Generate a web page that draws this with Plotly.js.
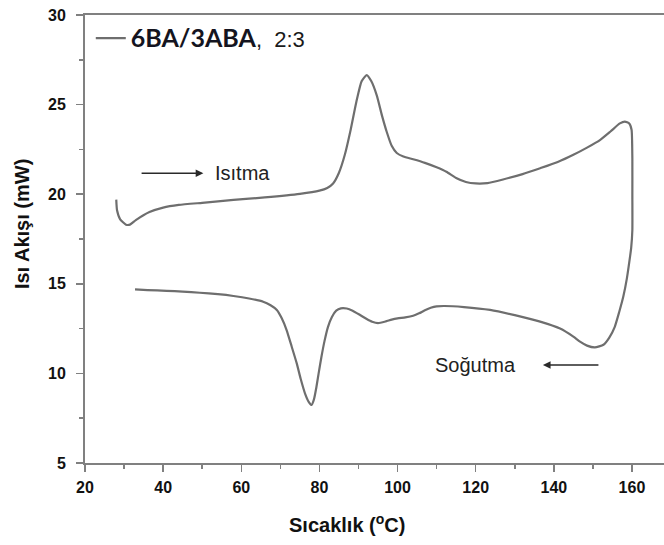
<!DOCTYPE html>
<html>
<head>
<meta charset="utf-8">
<script src="https://cdn.plot.ly/plotly-3.0.1.min.js"></script>
<style>
  html, body { margin: 0; padding: 0; background: #fff; }
  #chart { width: 664px; height: 545px; }
</style>
</head>
<body>
<div id="chart"></div>
<script>
// DSC trace of 6BA/3ABA (2:3): heating run, then cooling run back down
const heatT = [28.0, 28.2, 29.0, 30.5, 31.5, 33.0, 36.5, 40.0, 44.0, 50.0, 58.0, 66.0, 75.0, 80.0, 82.0, 83.5,
  85.0, 86.5, 88.0, 89.5, 90.8, 92.1, 93.3, 94.7, 96.0, 97.2, 98.5, 99.8, 101.5, 104.0, 107.0, 110.0,
  112.5, 115.0, 117.5, 120.0, 123.0, 127.0, 132.0, 136.5, 141.0, 145.0, 148.5, 151.8, 154.5, 156.9, 158.2,
  159.3, 159.9, 160.1, 160.1, 160.1];
const heatQ = [19.7, 19.1, 18.6, 18.3, 18.3, 18.55, 19.0, 19.25, 19.4, 19.52, 19.68, 19.82, 20.02, 20.2, 20.35, 20.6,
  21.2, 22.2, 23.6, 25.2, 26.3, 26.65, 26.3, 25.5, 24.4, 23.5, 22.7, 22.3, 22.1, 21.95, 21.75, 21.5,
  21.25, 20.9, 20.68, 20.6, 20.62, 20.82, 21.12, 21.45, 21.8, 22.2, 22.6, 23.02, 23.5, 23.95, 24.05,
  23.95, 23.6, 22.0, 20.0, 18.0];

const coolT = [159.8, 159.5, 158.7, 157.8, 156.7, 155.6, 154.2, 152.7, 150.5, 148.5, 146.7, 145.0, 141.6,
  136.5, 130.0, 123.7, 117.0, 112.0, 110.0, 108.5, 107.0, 105.5, 104.0, 102.0, 100.0, 98.5, 97.0, 95.0, 93.5, 92.0,
  90.4, 88.5, 87.0, 85.5, 84.3, 83.2, 82.2, 81.3, 80.5, 79.8, 79.2, 78.6, 78.0, 77.3, 76.3, 75.2, 74.2,
  72.9, 71.6, 70.3, 69.1, 67.5, 65.6, 62.0, 58.0, 54.0, 49.4, 45.0, 40.9, 36.0, 32.8];
const coolQ = [17.0, 16.5, 15.3, 14.3, 13.4, 12.6, 12.0, 11.6, 11.45, 11.55, 11.77, 12.05, 12.5,
  12.89, 13.25, 13.54, 13.7, 13.76, 13.74, 13.66, 13.52, 13.35, 13.22, 13.13, 13.07, 13.0, 12.9, 12.8, 12.88, 13.05,
  13.26, 13.5, 13.62, 13.63, 13.5, 13.15, 12.6, 11.8, 10.9, 10.0, 9.2, 8.55, 8.24, 8.4, 8.89, 9.7, 10.56,
  11.5, 12.42, 13.1, 13.54, 13.8, 14.0, 14.18, 14.32, 14.42, 14.5, 14.56, 14.61, 14.65, 14.69];

// direction labels with their arrows (tail -> head)
const heatLabel = { text: "Isıtma", x: 52.8, y: 21.17, arrowFrom: 34.1, arrowTo: 50.3 };
const coolLabel = { text: "Soğutma", x: 109.1, y: 10.47, arrowFrom: 151.8, arrowTo: 137.2 };

const seriesName =
  "<span style=\"font-family:Lato;font-weight:bold;font-size:25px;color:#141420\">6BA/3ABA</span>,  2:3";

const xTicks = [20, 40, 60, 80, 100, 120, 140, 160];
const yTicks = [5, 10, 15, 20, 25, 30];

const axisColor = "#808080";
const tickFont = { family: "Liberation Sans, Arial, sans-serif", size: 16, color: "#111", weight: "bold" };
const titleFont = { family: "Liberation Sans, Arial, sans-serif", size: 20, color: "#111", weight: "bold" };

const trace = {
  x: heatT.concat(coolT),
  y: heatQ.concat(coolQ),
  type: "scatter",
  mode: "lines",
  name: seriesName,
  line: { color: "#6e6e6e", width: 2.2, shape: "spline", smoothing: 0.5 }
};

function arrowNote(lbl) {
  return {
    x: lbl.arrowTo, y: lbl.y, ax: lbl.arrowFrom, ay: lbl.y,
    xref: "x", yref: "y", axref: "x", ayref: "y",
    text: "", showarrow: true, arrowhead: 2, arrowsize: 1.1, arrowwidth: 1.4, arrowcolor: "#2a2a2a"
  };
}
function textNote(lbl) {
  return {
    x: lbl.x, y: lbl.y, xref: "x", yref: "y", xanchor: "left", yanchor: "middle",
    text: lbl.text, showarrow: false,
    font: { family: "Liberation Sans, Arial, sans-serif", size: 20, color: "#222" }
  };
}

const layout = {
  width: 664, height: 545,
  margin: { l: 85, r: 0, t: 15, b: 82 },
  paper_bgcolor: "#fff", plot_bgcolor: "#fff",
  showlegend: true,
  legend: {
    x: 0.01, y: 0.995, xanchor: "left", yanchor: "top",
    bgcolor: "rgba(0,0,0,0)", borderwidth: 0,
    font: { family: "Liberation Sans, Arial, sans-serif", size: 22, color: "#1a1a1a" }
  },
  xaxis: {
    range: [20, 168.2], tickvals: xTicks, ticks: "outside", ticklen: 7, tickwidth: 1.5, tickcolor: axisColor,
    minor: { dtick: 10, tick0: 20, ticks: "outside", ticklen: 4, tickwidth: 1.5, tickcolor: axisColor },
    showline: true, linecolor: axisColor, linewidth: 2, mirror: true,
    showgrid: false, zeroline: false, tickfont: tickFont, ticklabelstandoff: 2
  },
  yaxis: {
    range: [5, 30], tickvals: yTicks, ticks: "outside", ticklen: 7, tickwidth: 1.5, tickcolor: axisColor,
    minor: { dtick: 2.5, tick0: 5, ticks: "outside", ticklen: 4, tickwidth: 1.5, tickcolor: axisColor },
    showline: true, linecolor: axisColor, linewidth: 2,
    showgrid: false, zeroline: false, tickfont: tickFont, ticklabelstandoff: 7
  },
  annotations: [
    arrowNote(heatLabel), textNote(heatLabel),
    arrowNote(coolLabel), textNote(coolLabel),
    { x: 0.4525, y: -0.134, xref: "paper", yref: "paper", xanchor: "center", yanchor: "middle",
      text: "Sıcaklık (<sup>o</sup>C)", showarrow: false, font: titleFont },
    { x: -0.109, y: 0.533, xref: "paper", yref: "paper", xanchor: "center", yanchor: "middle",
      text: "Isı Akışı (mW)", textangle: -90, showarrow: false, font: titleFont }
  ]
};

Plotly.newPlot("chart", [trace], layout, { displayModeBar: false, staticPlot: true });
</script>
</body>
</html>
